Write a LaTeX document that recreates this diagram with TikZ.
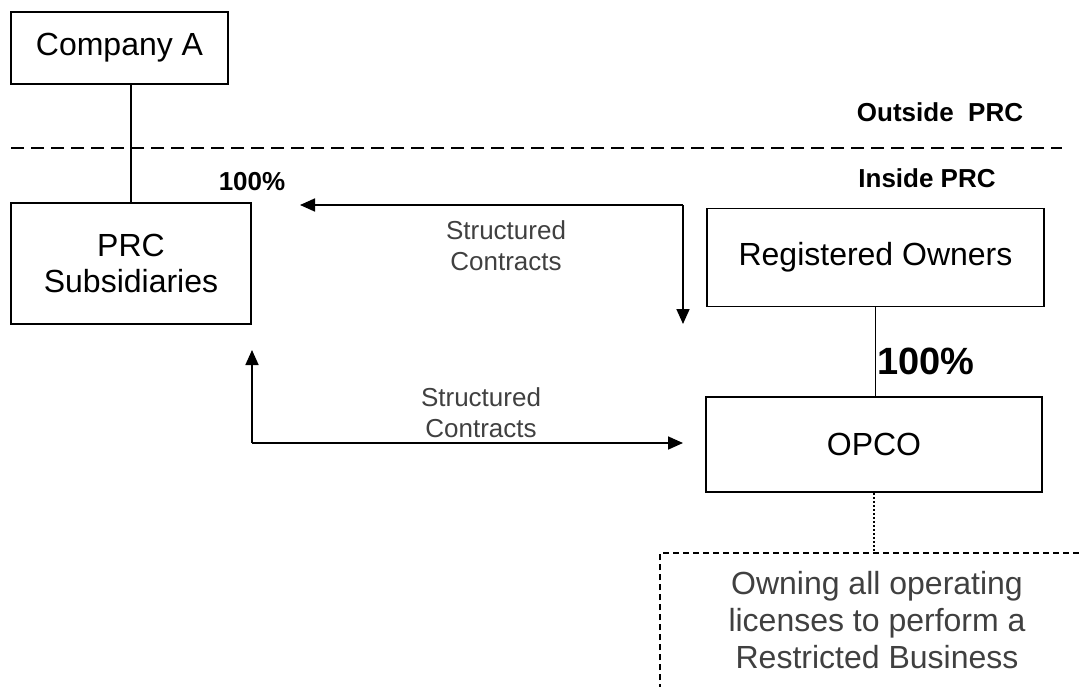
\documentclass[tikz,border=0pt]{standalone}
\usepackage{fontspec}
\setmainfont{Liberation Sans}
\usetikzlibrary{arrows.meta}
\definecolor{labelgray}{HTML}{404040}

\begin{document}
\begin{tikzpicture}[x=1pt,y=-1pt,
    entity/.style={draw,line width=1.7pt,align=center,font=\fontsize{32}{36}\selectfont},
    marker/.style={font=\bfseries\fontsize{26}{30}\selectfont,inner sep=0pt},
    contract/.style={text=labelgray,align=center,font=\fontsize{26}{31}\selectfont,inner sep=0pt},
    flow/.style={line width=1.7pt,-{Triangle[length=15pt,width=13pt]}},
    border/.style={line width=1.7pt,dash pattern=on 13pt off 7pt},
    notebox/.style={line width=1.3pt,dash pattern=on 6pt off 4pt}]
    \useasboundingbox (0,0) rectangle (1079,686);

    \node[entity,minimum width=217,minimum height=72] (compA) at (119.5,48) {Company A};
    \node[entity,minimum width=240,minimum height=121] (prcsub) at (131,263.5) {PRC\\Subsidiaries};
    \node[entity,minimum width=337,minimum height=98] (regown) at (875.5,257.5) {Registered Owners};
    \node[entity,minimum width=336,minimum height=95] (opco) at (874,444.5) {OPCO};

    \draw[border] (11,148) -- (1062,148);
    \node[marker] (outside) at (940,112) {Outside \ PRC};
    \node[marker] (inside) at (927,178) {Inside PRC};
    \node[marker] (pctA) at (252,182) {100\%};
    \node[marker,font=\bfseries\fontsize{38}{42}\selectfont] (pctB) at (926,361) {100\%};

    \draw[line width=1.7pt] (compA.south -| prcsub.north) -- (prcsub.north);
    \draw[line width=1.7pt] (regown.south) -- (regown.south |- opco.north);

    % structured contracts
    \coordinate (topturn) at (683,205);
    \coordinate (bottomturn) at (252,443);
    \draw[flow] (topturn) -- (300,205);
    \draw[flow] (topturn) -- (683,324);
    \draw[flow] (bottomturn) -- (252,350);
    \draw[flow] (bottomturn) -- (683,443);
    \node[contract] (scTop) at (506,246) {Structured\\Contracts};
    \node[contract] (scBottom) at (481,413) {Structured\\Contracts};

    % restricted business note
    \coordinate (notetop) at (opco.south |- 0,553);
    \draw[line width=1.7pt,dash pattern=on 2pt off 2pt] (opco.south) -- (notetop);
    \draw[notebox] (660,720) |- (1100,553);
    \node[contract,font=\fontsize{32}{37}\selectfont] (note) at (877,620)
        {Owning all operating\\licenses to perform a\\Restricted Business};
\end{tikzpicture}
\end{document}
